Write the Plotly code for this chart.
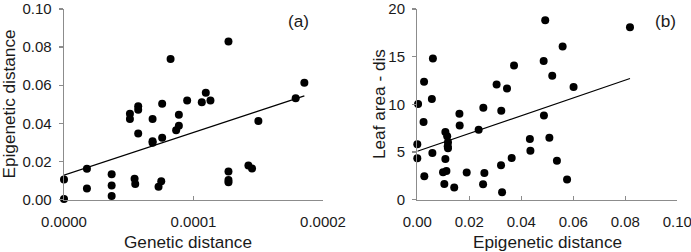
import plotly.graph_objects as go

# ---- Panel (a): Genetic vs Epigenetic distance ----
a_genetic = [0, 0, 0.0000177, 0.0000177, 0.0000368, 0.0000368, 0.0000368,
             0.0000509, 0.0000509, 0.0000545, 0.000055, 0.0000573, 0.0000573, 0.0000573,
             0.0000684, 0.0000684, 0.0000684, 0.0000758, 0.0000758, 0.0000751, 0.000073,
             0.0000823, 0.0000866, 0.0000887, 0.0000887, 0.0000951, 0.0001064, 0.0001095,
             0.0001131, 0.000127, 0.000127, 0.000127, 0.000127, 0.0001424, 0.0001452,
             0.0001501, 0.0001789, 0.0001856]
a_epigenetic = [0.0105, 0.0002, 0.0161, 0.0058, 0.0133, 0.0074, 0.0019,
                0.0450, 0.0422, 0.0109, 0.0081, 0.0490, 0.0471, 0.0347,
                0.0422, 0.0306, 0.0298, 0.0503, 0.0324, 0.0096, 0.0067,
                0.0737, 0.0363, 0.0387, 0.0445, 0.0520, 0.0510, 0.0560,
                0.0520, 0.0830, 0.0147, 0.0102, 0.0091, 0.0179, 0.0163,
                0.0412, 0.0532, 0.0613]
a_trend_intercept = 0.0128
a_trend_slope = 224.0
a_trend_xmax = 0.0001856

# ---- Panel (b): Epigenetic distance vs Leaf area - dis ----
b_epigenetic = [0.0003, 0.0, 0.0, 0.0026, 0.0024, 0.0027, 0.0060, 0.0056, 0.0058,
                0.0108, 0.0115, 0.0118, 0.0117, 0.0118, 0.0108, 0.0099, 0.0112, 0.0104,
                0.0142, 0.0162, 0.0163, 0.0190, 0.0236, 0.0254, 0.0258, 0.0253,
                0.0305, 0.0323, 0.0322, 0.0326, 0.0345, 0.0363, 0.0372, 0.0433, 0.0435,
                0.0486, 0.0487, 0.0492, 0.0508, 0.0519, 0.0537, 0.0559, 0.0576, 0.0601,
                0.0818]
b_leaf = [10.02, 5.79, 4.33, 12.36, 8.13, 2.44, 14.8, 10.54, 4.89,
          7.09, 6.63, 6.0, 5.58, 5.37, 4.26, 2.86, 3.0, 1.64,
          1.26, 9.0, 7.78, 2.83, 7.33, 9.63, 2.79, 1.61,
          12.08, 9.32, 3.6, 0.77, 11.66, 4.36, 14.07, 6.35, 5.13,
          14.55, 8.83, 18.81, 6.49, 12.98, 4.08, 16.06, 2.09, 11.8,
          18.08]
b_trend_intercept = 5.06
b_trend_slope = 93.5
b_trend_xmax = 0.0818

a_xticks = [0, 0.0001, 0.0002]
a_yticks = [0, 0.02, 0.04, 0.06, 0.08, 0.10]
b_xticks = [0, 0.02, 0.04, 0.06, 0.08, 0.10]
b_yticks = [0, 5, 10, 15, 20]

panel_labels = ["(a)", "(b)"]
a_xtitle, a_ytitle = "Genetic distance", "Epigenetic distance"
b_xtitle, b_ytitle = "Epigenetic distance", "Leaf area - dis"

W, H = 691, 252
FONT = "Liberation Sans, Arial, sans-serif"
TXT = "#1a1a1a"
AXC = "#8c8c8c"


def px(xp):
    return xp / W


def py(yp):
    return (H - yp) / H


fig = go.Figure()
mk = dict(color="black", size=8)
fig.add_trace(go.Scatter(x=a_genetic, y=a_epigenetic, mode="markers", marker=mk,
                         xaxis="x", yaxis="y", cliponaxis=False, showlegend=False))
fig.add_trace(go.Scatter(x=[0, a_trend_xmax],
                         y=[a_trend_intercept, a_trend_intercept + a_trend_slope * a_trend_xmax],
                         mode="lines", line=dict(color="black", width=1.2),
                         xaxis="x", yaxis="y", showlegend=False))
fig.add_trace(go.Scatter(x=b_epigenetic, y=b_leaf, mode="markers", marker=mk,
                         xaxis="x2", yaxis="y2", cliponaxis=False, showlegend=False))
fig.add_trace(go.Scatter(x=[0, b_trend_xmax],
                         y=[b_trend_intercept, b_trend_intercept + b_trend_slope * b_trend_xmax],
                         mode="lines", line=dict(color="black", width=1.2),
                         xaxis="x2", yaxis="y2", showlegend=False))

tickfont = dict(family=FONT, size=15, color=TXT)
common = dict(showgrid=False, zeroline=False, showline=True, linecolor=AXC, linewidth=1.3,
              tickcolor=AXC, tickwidth=1.3, ticklen=4, tickfont=tickfont, fixedrange=True,
              automargin=False, ticklabeloverflow="allow")
xextra = dict(ticks="inside", ticklabelstandoff=8)
yextra = dict(ticks="outside", ticklabelstandoff=4)

ydom = [py(199.5), py(9)]
fig.update_layout(
    width=W, height=H, margin=dict(l=0, r=0, t=0, b=0, autoexpand=False),
    paper_bgcolor="white", plot_bgcolor="white",
    xaxis=dict(domain=[px(64), px(323)], range=[0, 0.0002], tickvals=a_xticks,
               tickformat=".4f", anchor="y", **xextra, **common),
    yaxis=dict(domain=ydom, range=[0, 0.1], tickvals=a_yticks, tickformat=".2f",
               anchor="x", **yextra, **common),
    xaxis2=dict(domain=[px(417.3), px(677.3)], range=[0, 0.1], tickvals=b_xticks,
                tickformat=".2f", anchor="y2", **xextra, **common),
    yaxis2=dict(domain=ydom, range=[0, 20], tickvals=b_yticks, anchor="x2", **yextra, **common),
)

tf = dict(family=FONT, size=17.2, color=TXT)
ann = [
    dict(text=a_xtitle, x=px(187.5), y=py(242), xanchor="center", yanchor="middle"),
    dict(text=a_ytitle, x=px(8.5), y=py(104), xanchor="center", yanchor="middle", textangle=-90),
    dict(text=b_xtitle, x=px(547.5), y=py(242), xanchor="center", yanchor="middle"),
    dict(text=b_ytitle, x=px(379), y=py(104), xanchor="center", yanchor="middle", textangle=-90),
    dict(text=panel_labels[0], x=px(298), y=py(21), xanchor="center", yanchor="middle"),
    dict(text=panel_labels[1], x=px(665), y=py(21), xanchor="center", yanchor="middle"),
]
for a in ann:
    fig.add_annotation(xref="paper", yref="paper", showarrow=False, font=tf, **a)

fig.write_html("out.html", config={"displayModeBar": False, "staticPlot": True},
               post_script="document.body.style.margin='0px';document.body.style.overflow='hidden';")
